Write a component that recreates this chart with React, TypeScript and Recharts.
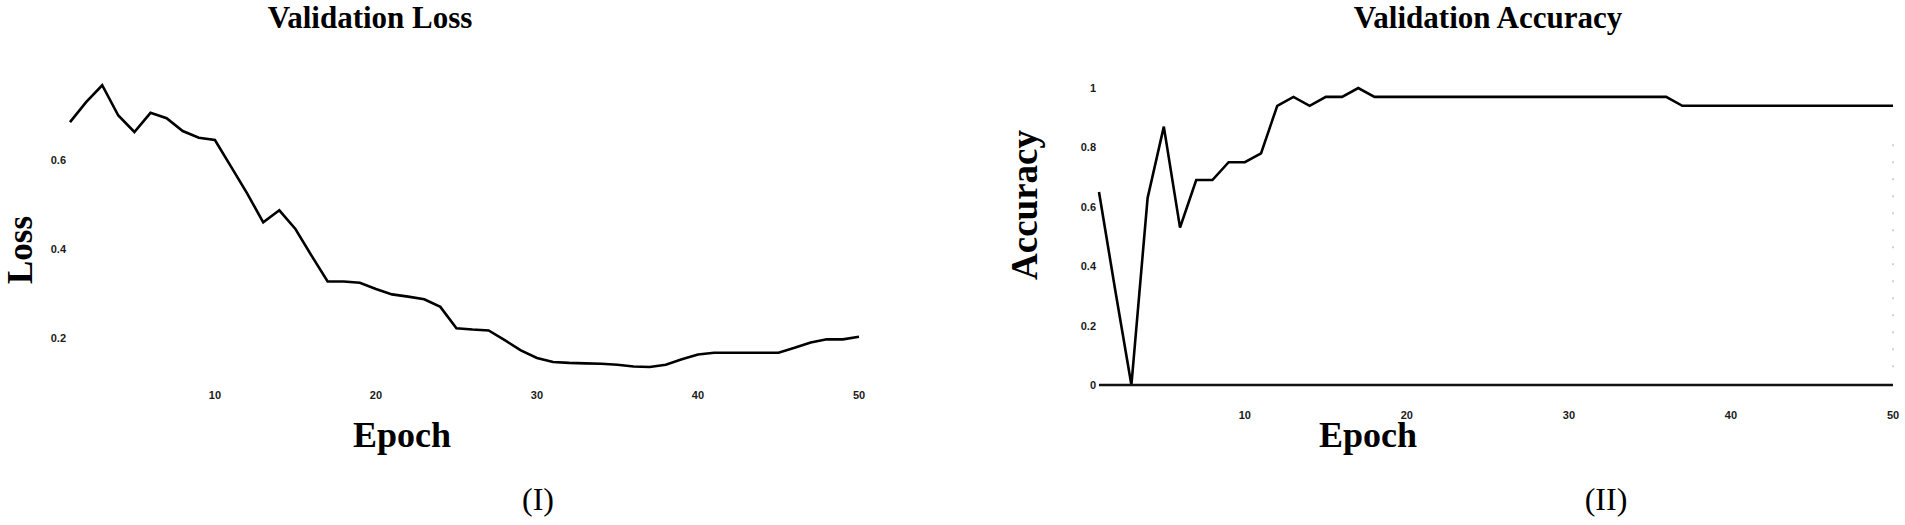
import React from "react";
import { LineChart, Line, XAxis, YAxis, ReferenceLine } from "recharts";

const epochs = Array.from({ length: 50 }, (_, i) => i + 1);

const lossValues = [
  0.685, 0.73, 0.768, 0.7, 0.663, 0.706, 0.694, 0.665, 0.65, 0.645,
  0.585, 0.525, 0.46, 0.487, 0.445, 0.385, 0.327, 0.327, 0.324, 0.31,
  0.298, 0.293, 0.287, 0.27, 0.222, 0.219, 0.217, 0.195, 0.172, 0.155,
  0.146, 0.144, 0.143, 0.142, 0.14, 0.136, 0.135, 0.14, 0.152, 0.163,
  0.167, 0.167, 0.167, 0.167, 0.167, 0.178, 0.19, 0.197, 0.197, 0.203,
];

const accuracyValues = [
  0.65, 0.32, 0.0, 0.63, 0.87, 0.53, 0.69, 0.69, 0.75, 0.75,
  0.78, 0.94, 0.97, 0.94, 0.97, 0.97, 1.0, 0.97, 0.97, 0.97,
  0.97, 0.97, 0.97, 0.97, 0.97, 0.97, 0.97, 0.97, 0.97, 0.97,
  0.97, 0.97, 0.97, 0.97, 0.97, 0.97, 0.94, 0.94, 0.94, 0.94,
  0.94, 0.94, 0.94, 0.94, 0.94, 0.94, 0.94, 0.94, 0.94, 0.94,
];

const epochTicks = [10, 20, 30, 40, 50];
const lossTicks = [0.2, 0.4, 0.6];
const accuracyTicks = [0, 0.2, 0.4, 0.6, 0.8, 1];

const lossData = epochs.map((e, i) => ({ epoch: e, loss: lossValues[i] }));
const accData = epochs.map((e, i) => ({ epoch: e, acc: accuracyValues[i] }));

const tickStyle = {
  fill: "#1a1a1a",
  fontSize: 11,
  fontWeight: 700,
  fontFamily: "'Liberation Sans', Arial, sans-serif",
};

const serif = "'Liberation Serif', 'Times New Roman', serif";

function LossChart() {
  return (
    <div style={{ position: "absolute", left: 0, top: 0 }}>
      <LineChart
        width={900}
        height={440}
        data={lossData}
        margin={{ top: 71, right: 41, bottom: 27.5, left: 40 }}
      >
        <XAxis
          dataKey="epoch"
          type="number"
          domain={[1, 50]}
          ticks={epochTicks}
          axisLine={false}
          tickLine={false}
          tickSize={0}
          tickMargin={9}
          height={30}
          tick={tickStyle}
        />
        <YAxis
          type="number"
          domain={[0.1, 0.8]}
          ticks={lossTicks}
          axisLine={false}
          tickLine={false}
          tickSize={0}
          tickMargin={4}
          width={30}
          tick={tickStyle}
        />
        <Line
          type="linear"
          dataKey="loss"
          stroke="#000"
          strokeWidth={2.6}
          dot={false}
          isAnimationActive={false}
        />
      </LineChart>
    </div>
  );
}

function AccuracyChart() {
  return (
    <div style={{ position: "absolute", left: 1000, top: 0 }}>
      <LineChart
        width={905}
        height={440}
        data={accData}
        margin={{ top: 88, right: 12, bottom: 25, left: 59 }}
      >
        <XAxis
          dataKey="epoch"
          type="number"
          domain={[1, 50]}
          ticks={epochTicks}
          axisLine={{ stroke: "#111", strokeWidth: 2.5 }}
          tickLine={false}
          tickSize={0}
          tickMargin={26}
          height={30}
          tick={tickStyle}
        />
        <YAxis
          type="number"
          domain={[0, 1]}
          ticks={accuracyTicks}
          axisLine={false}
          tickLine={false}
          tickSize={0}
          tickMargin={3}
          width={40}
          tick={tickStyle}
        />
        <ReferenceLine
          segment={[
            { x: 50, y: 0.06 },
            { x: 50, y: 0.86 },
          ]}
          stroke="#c4c4c4"
          strokeWidth={1.5}
          strokeDasharray="2 15"
        />
        <Line
          type="linear"
          dataKey="acc"
          stroke="#000"
          strokeWidth={2.6}
          dot={false}
          isAnimationActive={false}
        />
      </LineChart>
    </div>
  );
}

export default function App() {
  return (
    <div
      style={{
        position: "absolute",
        left: 0,
        top: 0,
        width: 1905,
        height: 525,
        background: "#fff",
        overflow: "hidden",
      }}
    >
      <LossChart />
      <AccuracyChart />
      <svg
        width={1905}
        height={525}
        style={{ position: "absolute", left: 0, top: 0, pointerEvents: "none" }}
      >
        <g fontFamily={serif} fill="#000">
          <text x={370} y={28} textAnchor="middle" fontSize={31} fontWeight={700}>
            Validation Loss
          </text>
          <text x={1488} y={28} textAnchor="middle" fontSize={31} fontWeight={700}>
            Validation Accuracy
          </text>
          <text x={402} y={447} textAnchor="middle" fontSize={36} fontWeight={700}>
            Epoch
          </text>
          <text x={1368} y={447} textAnchor="middle" fontSize={36} fontWeight={700}>
            Epoch
          </text>
          <text
            x={32}
            y={250}
            textAnchor="middle"
            fontSize={35}
            fontWeight={700}
            transform="rotate(-90, 32, 250)"
          >
            Loss
          </text>
          <text
            x={1037}
            y={205}
            textAnchor="middle"
            fontSize={37}
            fontWeight={700}
            transform="rotate(-90, 1037, 205)"
          >
            Accuracy
          </text>
          <text x={538} y={510} textAnchor="middle" fontSize={32}>
            (I)
          </text>
          <text x={1606} y={510} textAnchor="middle" fontSize={32}>
            (II)
          </text>
        </g>
      </svg>
    </div>
  );
}
